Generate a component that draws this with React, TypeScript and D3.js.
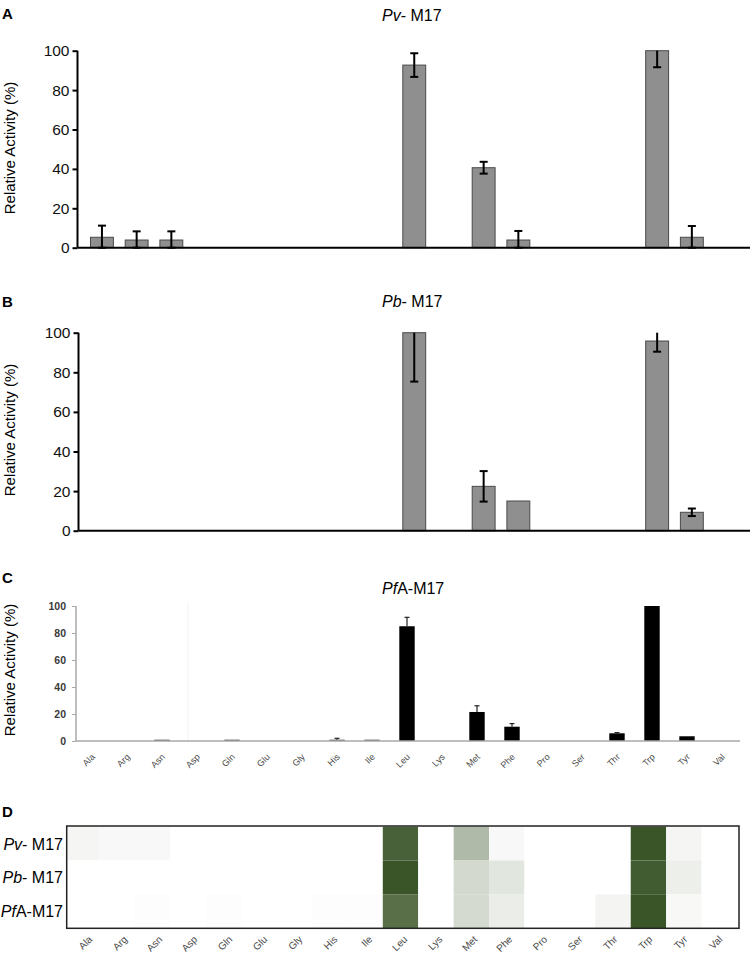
import * as d3 from 'd3';
import { useEffect, useRef } from 'react';

const aminoAcids = ['Ala', 'Arg', 'Asn', 'Asp', 'Gln', 'Glu', 'Gly', 'His', 'Ile', 'Leu', 'Lys', 'Met', 'Phe', 'Pro', 'Ser', 'Thr', 'Trp', 'Tyr', 'Val'];

// Pv-M17 relative activity (%) and error
const pvMean = [5.3, 3.9, 3.9, 0, 0, 0, 0, 0, 0, 92.7, 0, 40.6, 3.9, 0, 0, 0, 100, 5.3, 0];
const pvErr = [5.9, 4.4, 4.4, 0, 0, 0, 0, 0, 0, 6, 0, 3, 4.6, 0, 0, 0, 8.4, 5.7, 0];

// Pb-M17
const pbMean = [0, 0, 0, 0, 0, 0, 0, 0, 0, 100, 0, 22.4, 15, 0, 0, 0, 95.8, 9.3, 0];
const pbErr = [0, 0, 0, 0, 0, 0, 0, 0, 0, 24.7, 0, 7.7, 0, 0, 0, 0, 5.4, 1.9, 0];

// PfA-M17
const pfMean = [0, 0, 1, 0, 1, 0, 0, 1, 1, 85, 0, 21.5, 10.6, 0, 0, 5.7, 100, 3.5, 0];
const pfErr = [0, 0, 0, 0, 0, 0, 0, 1, 0, 6.6, 0, 4.6, 2.3, 0, 0, 0.5, 0, 0, 0];

const yTicks = [0, 20, 40, 60, 80, 100];
const heatRows = ['Pv', 'Pb', 'Pf'];

const FONT = '"Liberation Sans", Arial, sans-serif';

const App: React.FC = () => {
    const svgRef = useRef<SVGSVGElement>(null);

    useEffect(() => {
        const svg = d3.select(svgRef.current);
        svg.selectAll('*').remove();
        svg.style('font-family', FONT);

        // panel letters
        const letters = [['A', 19], ['B', 307], ['C', 583], ['D', 817]] as const;
        letters.forEach(([l, y]) => {
            svg.append('text').attr('x', 2).attr('y', y).attr('font-size', 15).attr('font-weight', 'bold').text(l);
        });

        // panel titles
        const titles = [
            { it: 'Pv', rest: '- M17', y: 21 },
            { it: 'Pb', rest: '- M17', y: 307 },
            { it: 'Pf', rest: 'A-M17', y: 594 },
        ];
        titles.forEach((t) => {
            const tx = svg.append('text').attr('x', 382).attr('y', t.y).attr('font-size', 16);
            tx.append('tspan').attr('font-style', 'italic').text(t.it);
            tx.append('tspan').text(t.rest);
        });

        // Y titles
        [148, 430, 670].forEach((cy) => {
            svg.append('text')
                .attr('transform', `translate(15,${cy}) rotate(-90)`)
                .attr('text-anchor', 'middle')
                .attr('font-size', 15)
                .text('Relative Activity (%)');
        });

        // Panels A and B: grey bars
        const xAB = d3.scaleBand<string>()
            .domain(aminoAcids)
            .range([84.6, 743.9])
            .paddingInner(0.34)
            .paddingOuter(0.17);

        const drawGrey = (mean: number[], err: number[], axisX: number, y0: number, y100: number) => {
            const y = d3.scaleLinear().domain([0, 100]).range([y0, y100]);
            const g = svg.append('g');

            g.selectAll('rect.bar')
                .data(aminoAcids.map((a, i) => ({ a, v: mean[i], e: err[i] })).filter((d) => d.v > 0))
                .enter()
                .append('rect')
                .attr('x', (d) => xAB(d.a) || 0)
                .attr('y', (d) => y(d.v))
                .attr('width', xAB.bandwidth())
                .attr('height', (d) => y(0) - y(d.v))
                .attr('fill', '#8f8f8f')
                .attr('stroke', '#4a4a4a')
                .attr('stroke-width', 1);

            // error bars
            aminoAcids.forEach((a, i) => {
                if (!err[i]) return;
                const cx = (xAB(a) || 0) + xAB.bandwidth() / 2;
                const hi = Math.min(100, mean[i] + err[i]);
                const lo = Math.max(0, mean[i] - err[i]);
                g.append('line').attr('x1', cx).attr('x2', cx).attr('y1', y(hi)).attr('y2', y(lo))
                    .attr('stroke', '#000').attr('stroke-width', 2);
                if (mean[i] + err[i] <= 100) {
                    g.append('line').attr('x1', cx - 4).attr('x2', cx + 4).attr('y1', y(hi)).attr('y2', y(hi))
                        .attr('stroke', '#000').attr('stroke-width', 2);
                }
                g.append('line').attr('x1', cx - 4).attr('x2', cx + 4).attr('y1', y(lo)).attr('y2', y(lo))
                    .attr('stroke', '#000').attr('stroke-width', 2);
            });

            // axes
            const ax = g.append('g')
                .attr('transform', `translate(${axisX},0)`)
                .call(d3.axisLeft(y).tickValues(yTicks).tickSize(5).tickPadding(3));
            ax.select('.domain').attr('stroke-width', 2).attr('d', `M-0,${y100}V${y0}`);
            ax.selectAll('.tick line').attr('stroke-width', 2);
            ax.selectAll('.tick text').attr('font-size', 15.5).attr('font-family', FONT).attr('fill', '#111');

            g.append('line').attr('x1', axisX).attr('x2', 750).attr('y1', y0).attr('y2', y0)
                .attr('stroke', '#000').attr('stroke-width', 2);
        };

        drawGrey(pvMean, pvErr, 77.5, 247.7, 50.7);
        drawGrey(pbMean, pbErr, 78.5, 530.7, 332.7);

        // Panel C: black bars
        const xC = d3.scaleBand<string>()
            .domain(aminoAcids)
            .range([74.5, 739.5])
            .paddingInner(0.56)
            .paddingOuter(0.28);
        const yC = d3.scaleLinear().domain([0, 100]).range([741, 606]);
        const gC = svg.append('g');

        gC.append('line').attr('x1', 188).attr('x2', 188).attr('y1', 604).attr('y2', 741)
            .attr('stroke', '#f2f2f2').attr('stroke-width', 1);

        gC.selectAll('rect.bar')
            .data(aminoAcids.map((a, i) => ({ a, v: pfMean[i] })).filter((d) => d.v > 0))
            .enter()
            .append('rect')
            .attr('x', (d) => xC(d.a) || 0)
            .attr('y', (d) => yC(d.v))
            .attr('width', xC.bandwidth())
            .attr('height', (d) => yC(0) - yC(d.v))
            .attr('fill', (d) => (d.v < 2 ? '#555' : '#000'));

        aminoAcids.forEach((a, i) => {
            if (!pfErr[i]) return;
            const cx = (xC(a) || 0) + xC.bandwidth() / 2;
            const hi = yC(pfMean[i] + pfErr[i]);
            gC.append('line').attr('x1', cx).attr('x2', cx).attr('y1', hi).attr('y2', yC(pfMean[i]))
                .attr('stroke', '#222').attr('stroke-width', 1.2);
            gC.append('line').attr('x1', cx - 2.5).attr('x2', cx + 2.5).attr('y1', hi).attr('y2', hi)
                .attr('stroke', '#222').attr('stroke-width', 1.2);
        });

        const axC = gC.append('g')
            .attr('transform', 'translate(76,0)')
            .call(d3.axisLeft(yC).tickValues(yTicks).tickSize(4).tickPadding(6));
        axC.select('.domain').attr('stroke', '#a8a8a8').attr('stroke-width', 1.5).attr('d', 'M-0,606V741');
        axC.selectAll('.tick line').attr('stroke', '#a8a8a8');
        axC.selectAll('.tick text').attr('font-size', 10.5).attr('font-weight', 'bold')
            .attr('font-family', FONT).attr('fill', '#3a3a3a');

        gC.append('line').attr('x1', 76).attr('x2', 740).attr('y1', 741).attr('y2', 741)
            .attr('stroke', '#a8a8a8').attr('stroke-width', 1.5);

        // rotated category labels, shared by C and D
        const drawCatLabels = (yTop: number, shift: number, size: number) => {
            const lg = svg.append('g');
            aminoAcids.forEach((d) => {
                const cx = (xC(d) || 0) + xC.bandwidth() / 2 + shift;
                lg.append('text')
                    .attr('transform', `translate(${cx},${yTop}) rotate(-45)`)
                    .attr('text-anchor', 'end')
                    .attr('font-size', size)
                    .attr('fill', '#4a4a4a')
                    .text(d);
            });
        };
        drawCatLabels(757.5, 3.5, 9);

        // Panel D: heatmap
        const xD = d3.scaleBand<string>().domain(aminoAcids).range([64, 737]);
        const yD = d3.scaleBand<string>().domain(heatRows).range([826.7, 928]);
        const color = d3.scaleLinear<string>().domain([0, 100]).range(['#ffffff', '#3a5528']).interpolate(d3.interpolateRgb);
        const heatValues: Record<string, number[]> = { Pv: pvMean, Pb: pbMean, Pf: pfMean };

        const defs = svg.append('defs');
        defs.append('clipPath').attr('id', 'heatClip')
            .append('rect').attr('x', 66.7).attr('y', 826).attr('width', 672.3).attr('height', 102.3);

        const gD = svg.append('g').attr('clip-path', 'url(#heatClip)');
        heatRows.forEach((r) => {
            gD.selectAll(`rect.c${r}`)
                .data(aminoAcids.map((a, i) => ({ a, v: heatValues[r][i] })))
                .enter()
                .append('rect')
                .attr('x', (d) => xD(d.a) || 0)
                .attr('y', yD(r) || 0)
                .attr('width', xD.bandwidth())
                .attr('height', yD.bandwidth())
                .attr('fill', (d) => color(d.v));
        });
        svg.append('rect').attr('x', 66.7).attr('y', 826).attr('width', 672.3).attr('height', 102.3)
            .attr('fill', 'none').attr('stroke', '#222').attr('stroke-width', 1.5);

        const rowNames = [
            { it: 'Pv', rest: '- M17' },
            { it: 'Pb', rest: '- M17' },
            { it: 'Pf', rest: 'A-M17' },
        ];
        rowNames.forEach((n, i) => {
            const tx = svg.append('text')
                .attr('x', 63)
                .attr('y', (yD(heatRows[i]) || 0) + yD.bandwidth() / 2 + 6)
                .attr('text-anchor', 'end')
                .attr('font-size', 16);
            tx.append('tspan').attr('font-style', 'italic').text(n.it);
            tx.append('tspan').text(n.rest);
        });

        drawCatLabels(940, 1, 10);
    }, []);

    return (
        <div style={{ position: 'absolute', left: 0, top: 0 }}>
            <svg ref={svgRef} width={750} height={956} style={{ display: 'block', background: '#fff' }}></svg>
        </div>
    );
};

export default App;
